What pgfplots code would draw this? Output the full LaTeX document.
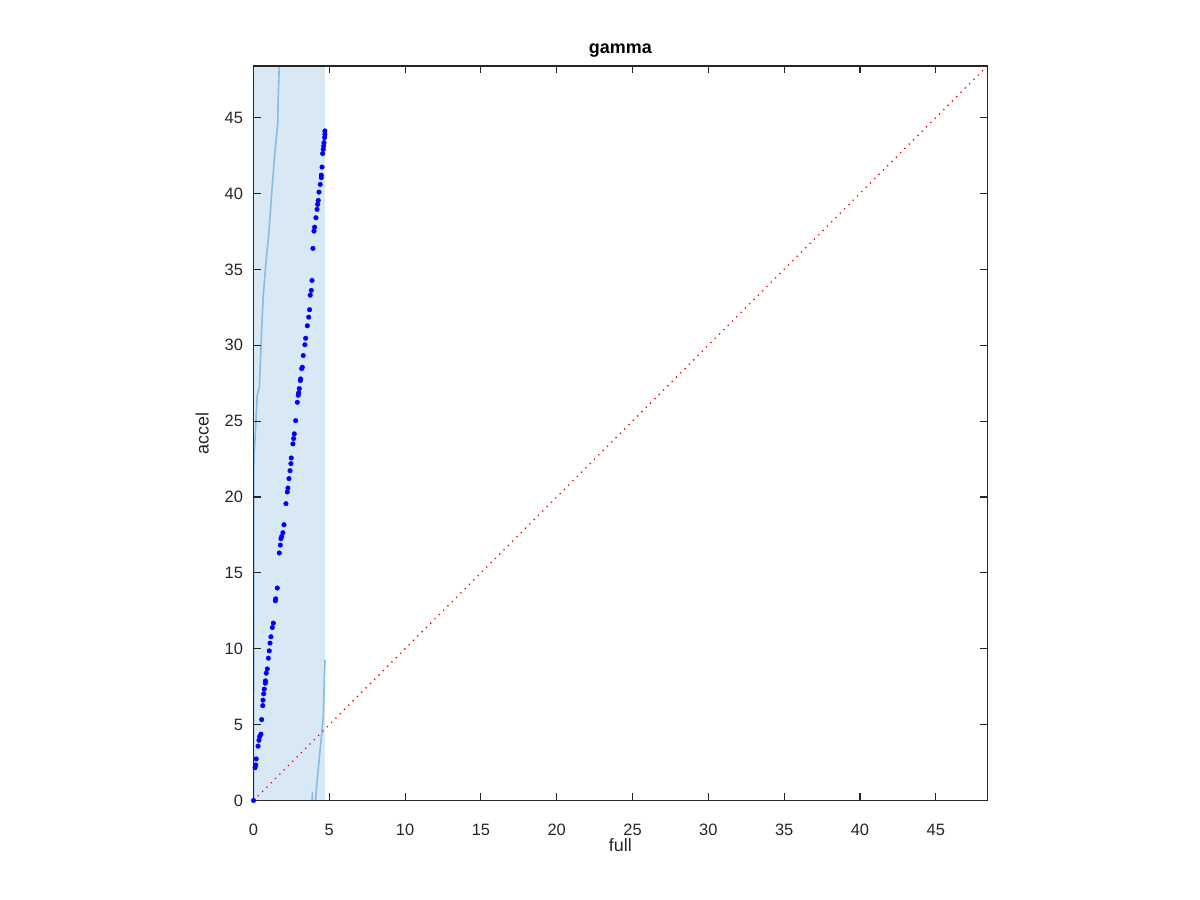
\documentclass[border=0pt]{standalone}
\usepackage{pgfplots}
\pgfplotsset{compat=1.18}
\usepackage{fontspec}
\setmainfont{Liberation Sans}
\definecolor{axgray}{RGB}{38,38,38}
\definecolor{bandfill}{RGB}{217,232,245}
\definecolor{bandline}{RGB}{135,188,228}
\begin{document}
\begin{tikzpicture}
\useasboundingbox (0,0) rectangle (1200bp,900bp);
\begin{axis}[
  at={(253.5bp,99.5bp)}, anchor=south west,
  scale only axis, width=733.8bp, height=734.5bp,
  xmin=0, xmax=48.4, ymin=0, ymax=48.4,
  xtick={0,5,...,45}, ytick={0,5,...,45},
  tick align=inside, major tick length=7bp,
  axis on top=true,
  axis line style={axgray, line width=1.1bp},
  every tick/.style={axgray, line width=1.1bp},
  tick label style={font=\fontsize{16.5}{18}\selectfont, text=axgray},
  xticklabel style={yshift=-20bp},
  yticklabel style={xshift=-7bp},
  /pgf/number format/assume math mode=true,
  xlabel={full}, ylabel={accel},
  label style={font=\fontsize{18}{20}\selectfont, text=axgray},
  xlabel style={yshift=4bp},
  ylabel style={yshift=9bp},
  title={\textbf{gamma}},
  title style={font=\fontsize{18}{20}\selectfont, yshift=-1bp},
  clip=true,
]
% band
\addplot[fill=bandfill, draw=none] coordinates {(0,-2) (4.72,-2) (4.72,52) (0,52)} -- cycle;
% upper bound line
\addplot[bandline, line width=1.6bp] coordinates {
(0,0) (0.01,5) (0.02,12) (0.02,18) (0.03,22.46) (0.16,24.99) (0.25,26.75) (0.38,27.19)
(0.49,29.72) (0.54,31.15) (0.65,33.35) (0.87,36.0) (0.98,37.0) (1.20,40.0) (1.40,42.6)
(1.43,42.9) (1.60,44.6) (1.62,45.9) (1.70,48.5) (1.75,50)};
% lower bound line
\addplot[bandline, line width=1.6bp] coordinates {
(4.06,-2) (4.10,0.03) (4.17,1.02) (4.38,3.22) (4.60,5.42) (4.68,8.28) (4.72,9.27)};
\addplot[bandline, line width=1.6bp] coordinates {(3.87,-1) (3.88,0.58)};
% diagonal
\addplot[red, line width=1.3bp, dash pattern=on 1.3bp off 4.8bp] coordinates {(0,0) (48.4,48.4)};
% points
\addplot[only marks, mark=*, mark size=2.3bp, color=blue, mark options={draw=blue, fill=blue}] coordinates {
(4.71,44.12) (4.71,43.90) (4.69,43.68) (4.65,43.35) (4.63,43.13) (4.60,42.91) (4.56,42.63)
(4.52,41.74) (4.47,41.21) (4.47,41.04) (4.40,40.60) (4.32,40.09) (4.27,39.54) (4.23,39.28)
(4.19,38.95) (4.12,38.40) (4.03,37.78) (3.99,37.52) (3.92,36.38) (3.86,34.27) (3.81,33.61)
(3.74,33.30) (3.70,32.34) (3.64,31.85) (3.55,31.28) (3.44,30.46) (3.39,30.03) (3.28,29.32)
(3.22,28.55) (3.18,28.46) (3.11,27.78) (3.09,27.67) (3.02,27.14) (2.98,26.86) (2.95,26.70)
(2.89,26.24) (2.78,25.03) (2.69,24.16) (2.65,23.85) (2.60,23.50) (2.49,22.57) (2.47,22.20)
(2.41,21.73) (2.34,21.21) (2.27,20.59) (2.23,20.33) (2.14,19.56) (2.01,18.17) (1.94,17.65)
(1.86,17.40) (1.81,17.25) (1.77,16.83) (1.70,16.31) (1.57,14.00) (1.46,13.29) (1.44,13.16)
(1.31,11.69) (1.24,11.40) (1.15,10.79) (1.09,10.37) (1.04,9.86) (0.98,9.38) (0.91,8.67)
(0.84,8.39) (0.79,7.88) (0.78,7.73) (0.71,7.34) (0.67,7.03) (0.63,6.61) (0.61,6.25)
(0.54,5.33) (0.49,4.37) (0.41,4.21) (0.36,3.97) (0.30,3.58) (0.18,2.74) (0.15,2.34)
(0.10,2.16) (0,0)};
\end{axis}
\end{tikzpicture}
\end{document}
